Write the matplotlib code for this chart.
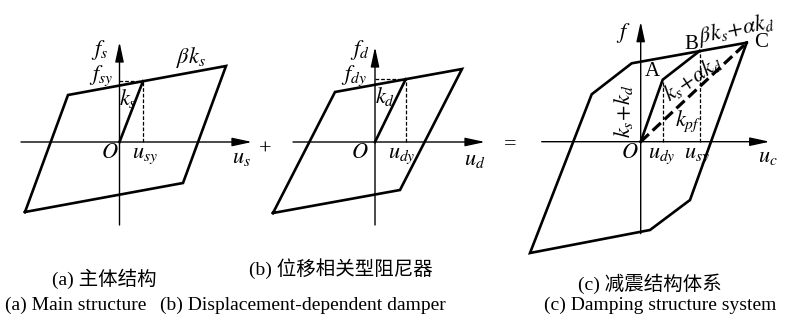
import matplotlib
matplotlib.use("Agg")
import matplotlib.pyplot as plt

plt.rcParams['mathtext.fontset'] = 'stix'
plt.rcParams['font.family'] = ['Liberation Serif', 'Noto Sans CJK SC']

W, H = 789, 323

# panel (a) main structure, coordinates relative to origin O (pixels, f up)
a_loop_u = [-94.5, -51.5, 106.5, 63.5, -94.5]
a_loop_f = [-70, 47, 76, -41, -70]
a_yield = (23.5, 60.8)

# panel (b) displacement-dependent damper
b_loop_u = [-102, -40, 87, 25, -102]
b_loop_f = [-71, 50, 73, -48, -71]
b_yield = (30.7, 62.8)

# panel (c) damping structure system
c_loop_u = [106, 49.3, 9.3, -110.7, -49, -9, 106]
c_loop_f = [99, -58.3, -88.3, -111.3, 47.4, 78.4, 99]
c_A = (22, 62)
c_B = (59, 90.8)
c_C = (106, 99)

captions_cn = ['(a) 主体结构', '(b) 位移相关型阻尼器', '(c) 减震结构体系']
captions_en = ['(a) Main structure', '(b) Displacement-dependent damper',
               '(c) Damping structure system']

fig = plt.figure(figsize=(W / 100, H / 100), dpi=100)


def make_axes(x0, x1, y0, y1, ox, oy):
    # box in figure pixels (y down), origin in figure pixels
    ax = fig.add_axes([x0 / W, 1 - y1 / H, (x1 - x0) / W, (y1 - y0) / H])
    ax.set_xlim(x0 - ox, x1 - ox)
    ax.set_ylim(oy - y1, oy - y0)
    ax.axis('off')
    return ax


def draw_axes(ax, xr, yr):
    ap = dict(arrowstyle='-|>,head_length=0.6,head_width=0.13', lw=1.0,
              color='k', mutation_scale=20, shrinkA=0, shrinkB=0)
    ax.annotate('', xy=(xr[1], 0), xytext=(xr[0], 0), arrowprops=ap)
    ax.annotate('', xy=(0, yr[1]), xytext=(0, yr[0]), arrowprops=ap)


def lab(ax, x, y, s, size=16, **kw):
    ax.text(x, y, s, fontsize=size, ha='center', va='center', **kw)


loop_kw = dict(color='k', lw=1.9, solid_joinstyle='miter')
dash_kw = dict(color='k', lw=0.9, ls=(0, (3, 1.5)))

# ---- (a)
ax = make_axes(0, 262, 0, 262, 119.5, 142)
draw_axes(ax, (-98.5, 132.5), (-83, 100))
ax.plot(a_loop_u, a_loop_f, **loop_kw)
ax.plot([0, a_yield[0]], [0, a_yield[1]], **loop_kw)
ax.plot([a_yield[0], a_yield[0]], [0, a_yield[1]], **dash_kw)
ax.plot([0, a_yield[0]], [a_yield[1], a_yield[1]], **dash_kw)
lab(ax, -19.5, 92, r'$f_s$')
lab(ax, -18, 66, r'$f_{sy}$')
lab(ax, 71, 84, r'$\beta k_s$')
lab(ax, 8, 44, r'$k_s$')
lab(ax, -9.5, -11, r'$O$')
lab(ax, 25, -14, r'$u_{sy}$')
lab(ax, 122, -16, r'$u_s$')

# ---- (b)
ax = make_axes(262, 525, 0, 262, 375, 142)
draw_axes(ax, (-82, 110), (-83, 95))
ax.plot(b_loop_u, b_loop_f, **loop_kw)
ax.plot([0, b_yield[0]], [0, b_yield[1]], **loop_kw)
ax.plot([b_yield[0], b_yield[0]], [0, b_yield[1]], **dash_kw)
ax.plot([0, b_yield[0]], [b_yield[1], b_yield[1]], **dash_kw)
lab(ax, -15, 92, r'$f_d$')
lab(ax, -21, 66, r'$f_{dy}$')
lab(ax, 10, 45, r'$k_d$')
lab(ax, -15, -11, r'$O$')
lab(ax, 27, -14, r'$u_{dy}$')
lab(ax, 100, -18, r'$u_d$')

# ---- (c)
ax = make_axes(525, 789, 0, 262, 640.7, 141.7)
draw_axes(ax, (-99, 129), (-92, 120))
ax.plot(c_loop_u, c_loop_f, **loop_kw)
ax.plot([0, c_A[0], c_B[0]], [0, c_A[1], c_B[1]], **loop_kw)
ax.plot([0, c_C[0]], [0, c_C[1]], color='k', lw=2.3, ls=(0, (3.5, 1.6)))
ax.plot([c_A[0], c_A[0]], [0, c_A[1]], **dash_kw)
ax.plot([c_B[0], c_B[0]], [0, c_B[1]], **dash_kw)
lab(ax, -17.5, 109, r'$f$')
lab(ax, 127, -16, r'$u_c$')
lab(ax, -10.7, -11.3, r'$O$')
lab(ax, 21, -14, r'$u_{dy}$')
lab(ax, 56, -14, r'$u_{sy}$')
lab(ax, 12, 70, 'A', size=15)
lab(ax, 51, 97, 'B', size=15)
lab(ax, 120, 99, 'C', size=15)
lab(ax, 96, 112, r'$\beta k_s\!+\!\alpha k_d$', rotation=12)
lab(ax, 52, 64, r'$k_s\!+\!\alpha k_d$', rotation=34)
lab(ax, -17, 30, r'$k_s\!+\!k_d$', rotation=90)
lab(ax, 47, 20, r'$k_{pf}$')

# operators between panels
fig.text(265 / W, 1 - 150 / H, '+', fontsize=16, ha='center', va='center')
fig.text(510 / W, 1 - 145 / H, '=', fontsize=16, ha='center', va='center')

# captions
cn_pos = [(104, 279), (341, 269), (650, 284)]
en_pos = [(76, 305), (303, 305), (660, 305)]
for s, (x, y) in zip(captions_cn, cn_pos):
    fig.text(x / W, 1 - y / H, s, fontsize=14, ha='center', va='center')
for s, (x, y) in zip(captions_en, en_pos):
    fig.text(x / W, 1 - y / H, s, fontsize=14, ha='center', va='center')

fig.savefig('out.png', dpi=100, facecolor='white')
